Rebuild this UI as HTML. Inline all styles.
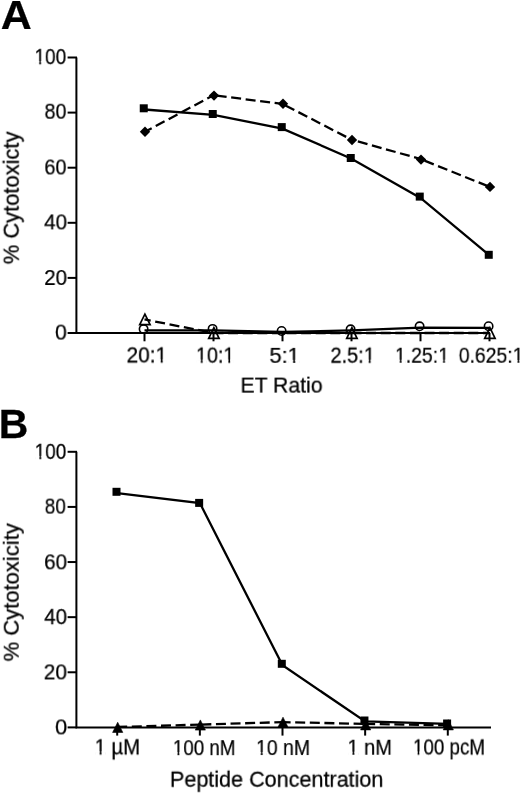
<!DOCTYPE html><html><head><meta charset="utf-8"><style>html,body{margin:0;padding:0;background:#fff;}svg{display:block;will-change:transform;filter:blur(0.35px);}text{font-family:"Liberation Sans", sans-serif;fill:#000;stroke:#000;stroke-width:0.25px;will-change:transform;}</style></head><body>
<svg width="520" height="794" viewBox="0 0 520 794">
<rect width="520" height="794" fill="#fff"/>
<g transform="translate(0.710,28.650) scale(1.0474,1)"><text font-size="41" font-weight="bold">A</text></g>
<g transform="translate(-1.260,438.350) scale(1.0223,1)"><text font-size="40" font-weight="bold">B</text></g>
<g transform="translate(34.450,64.080) scale(0.8645,1)"><text font-size="22">100</text><rect x="0.176" y="-2.944" width="5.306" height="4.944" fill="#fff"/><rect x="7.527" y="-2.944" width="4.835" height="4.944" fill="#fff"/></g>
<g transform="translate(44.490,118.735) scale(0.8986,1)"><text font-size="22">80</text></g>
<g transform="translate(44.360,174.500) scale(0.9044,1)"><text font-size="22">60</text></g>
<g transform="translate(44.140,229.425) scale(0.9356,1)"><text font-size="22">40</text></g>
<g transform="translate(44.170,284.985) scale(0.9342,1)"><text font-size="22">20</text></g>
<g transform="translate(54.980,339.600) scale(0.9667,1)"><text font-size="22">0</text></g>
<g transform="translate(34.610,458.890) scale(0.8622,1)"><text font-size="22">100</text><rect x="0.176" y="-2.944" width="5.306" height="4.944" fill="#fff"/><rect x="7.527" y="-2.944" width="4.835" height="4.944" fill="#fff"/></g>
<g transform="translate(44.750,513.600) scale(0.8596,1)"><text font-size="22">80</text></g>
<g transform="translate(44.080,569.330) scale(0.9379,1)"><text font-size="22">60</text></g>
<g transform="translate(44.220,624.075) scale(0.9313,1)"><text font-size="22">40</text></g>
<g transform="translate(43.680,679.415) scale(0.9514,1)"><text font-size="22">20</text></g>
<g transform="translate(55.020,734.405) scale(0.9960,1)"><text font-size="22">0</text></g>
<g transform="translate(126.510,362.430) scale(0.9487,1)"><text font-size="22">20:1</text><rect x="30.759" y="-2.944" width="5.306" height="4.944" fill="#fff"/><rect x="38.110" y="-2.944" width="4.835" height="4.944" fill="#fff"/></g>
<g transform="translate(195.910,362.570) scale(0.8994,1)"><text font-size="22">10:1</text><rect x="0.176" y="-2.944" width="5.306" height="4.944" fill="#fff"/><rect x="7.527" y="-2.944" width="4.835" height="4.944" fill="#fff"/><rect x="30.759" y="-2.944" width="5.306" height="4.944" fill="#fff"/><rect x="38.110" y="-2.944" width="4.835" height="4.944" fill="#fff"/></g>
<g transform="translate(269.440,362.845) scale(0.9938,1)"><text font-size="22">5:1</text><rect x="18.523" y="-2.944" width="5.306" height="4.944" fill="#fff"/><rect x="25.874" y="-2.944" width="4.835" height="4.944" fill="#fff"/></g>
<g transform="translate(330.470,362.675) scale(0.9072,1)"><text font-size="22">2.5:1</text><rect x="36.871" y="-2.944" width="5.306" height="4.944" fill="#fff"/><rect x="44.222" y="-2.944" width="4.835" height="4.944" fill="#fff"/></g>
<g transform="translate(394.960,362.695) scale(0.8838,1)"><text font-size="22">1.25:1</text><rect x="0.176" y="-2.944" width="5.306" height="4.944" fill="#fff"/><rect x="7.527" y="-2.944" width="4.835" height="4.944" fill="#fff"/><rect x="49.106" y="-2.944" width="5.306" height="4.944" fill="#fff"/><rect x="56.457" y="-2.944" width="4.835" height="4.944" fill="#fff"/></g>
<g transform="translate(458.800,362.715) scale(0.8802,1)"><text font-size="22">0.625:1</text><rect x="61.342" y="-2.944" width="5.306" height="4.944" fill="#fff"/><rect x="68.693" y="-2.944" width="4.835" height="4.944" fill="#fff"/></g>
<g transform="translate(240.520,392.620) scale(0.9627,1)"><text font-size="22">ET Ratio</text></g>
<g transform="translate(94.630,754.330) scale(0.9221,1)"><text font-size="22">1 µM</text><rect x="0.176" y="-2.944" width="5.306" height="4.944" fill="#fff"/><rect x="7.527" y="-2.944" width="4.835" height="4.944" fill="#fff"/></g>
<g transform="translate(172.810,755.150) scale(0.8543,1)"><text font-size="22">100 nM</text><rect x="0.176" y="-2.944" width="5.306" height="4.944" fill="#fff"/><rect x="7.527" y="-2.944" width="4.835" height="4.944" fill="#fff"/></g>
<g transform="translate(255.990,755.005) scale(0.8858,1)"><text font-size="22">10 nM</text><rect x="0.176" y="-2.944" width="5.306" height="4.944" fill="#fff"/><rect x="7.527" y="-2.944" width="4.835" height="4.944" fill="#fff"/></g>
<g transform="translate(347.430,754.695) scale(0.9118,1)"><text font-size="22">1 nM</text><rect x="0.176" y="-2.944" width="5.306" height="4.944" fill="#fff"/><rect x="7.527" y="-2.944" width="4.835" height="4.944" fill="#fff"/></g>
<g transform="translate(412.920,754.445) scale(0.8552,1)"><text font-size="22">100 pcM</text><rect x="0.176" y="-2.944" width="5.306" height="4.944" fill="#fff"/><rect x="7.527" y="-2.944" width="4.835" height="4.944" fill="#fff"/></g>
<g transform="translate(169.910,786.740) scale(0.9812,1)"><text font-size="22">Peptide Concentration</text></g>
<g transform="translate(18.725,264.280) rotate(-90) scale(0.9969,1)"><text font-size="22">% Cytotoxicty</text></g>
<g transform="translate(18.735,661.450) rotate(-90) scale(1.0017,1)"><text font-size="22">% Cytotoxicity</text></g>
<path d="M76.4 57.5V333M75.4 333H490" stroke="#000" stroke-width="2" fill="none"/>
<path d="M67.6 333.00H77" stroke="#000" stroke-width="2"/>
<path d="M67.6 277.90H77" stroke="#000" stroke-width="2"/>
<path d="M67.6 222.80H77" stroke="#000" stroke-width="2"/>
<path d="M67.6 167.70H77" stroke="#000" stroke-width="2"/>
<path d="M67.6 112.60H77" stroke="#000" stroke-width="2"/>
<path d="M67.6 57.50H77" stroke="#000" stroke-width="2"/>
<path d="M144.50 333V341.3" stroke="#000" stroke-width="2"/>
<path d="M213.50 333V341.3" stroke="#000" stroke-width="2"/>
<path d="M282.50 333V341.3" stroke="#000" stroke-width="2"/>
<path d="M351.50 333V341.3" stroke="#000" stroke-width="2"/>
<path d="M420.50 333V341.3" stroke="#000" stroke-width="2"/>
<path d="M489.50 333V341.3" stroke="#000" stroke-width="2"/>
<polyline points="144.50,330.30 213.50,330.30 282.50,332.00 351.50,330.40 420.50,327.70 489.50,327.80" fill="none" stroke="#000" stroke-width="2.3"/>
<line x1="144.50" y1="319.40" x2="213.50" y2="333.00" stroke="#000" stroke-width="2.3" stroke-dasharray="10,4.6" stroke-dashoffset="3.7"/>
<line x1="213.50" y1="333.00" x2="351.50" y2="333.00" stroke="#000" stroke-width="2.3" stroke-dasharray="10,4.6" stroke-dashoffset="0"/>
<line x1="351.50" y1="333.00" x2="489.50" y2="333.00" stroke="#000" stroke-width="2.3" stroke-dasharray="10,4.6" stroke-dashoffset="0"/>
<line x1="144.50" y1="132.05" x2="213.50" y2="95.26" stroke="#000" stroke-width="2.3" stroke-dasharray="10,4.6" stroke-dashoffset="1.85"/>
<line x1="213.50" y1="95.26" x2="282.50" y2="103.90" stroke="#000" stroke-width="2.3" stroke-dasharray="10,4.6" stroke-dashoffset="11.4"/>
<line x1="282.50" y1="103.90" x2="351.50" y2="139.65" stroke="#000" stroke-width="2.3" stroke-dasharray="10,4.6" stroke-dashoffset="11.3"/>
<line x1="351.50" y1="139.65" x2="420.50" y2="159.00" stroke="#000" stroke-width="2.3" stroke-dasharray="10,4.6" stroke-dashoffset="8.0"/>
<line x1="420.50" y1="159.00" x2="489.50" y2="186.80" stroke="#000" stroke-width="2.3" stroke-dasharray="10,4.6" stroke-dashoffset="10.3"/>
<polyline points="144.50,109.50 213.50,114.85 282.50,128.60 351.50,158.70 420.50,197.95 489.50,255.40" fill="none" stroke="#000" stroke-width="2.3"/>
<path d="M144.90 314.10L150.10 324.70L139.70 324.70Z" fill="none" stroke="#000" stroke-width="1.7" stroke-linejoin="miter"/>
<path d="M213.90 327.70L219.10 338.30L208.70 338.30Z" fill="none" stroke="#000" stroke-width="1.7" stroke-linejoin="miter"/>
<path d="M351.90 327.70L357.10 338.30L346.70 338.30Z" fill="none" stroke="#000" stroke-width="1.7" stroke-linejoin="miter"/>
<path d="M489.90 327.70L495.10 338.30L484.70 338.30Z" fill="none" stroke="#000" stroke-width="1.7" stroke-linejoin="miter"/>
<circle cx="143.60" cy="329.10" r="4.2" fill="none" stroke="#000" stroke-width="1.6"/>
<circle cx="212.60" cy="328.90" r="4.2" fill="none" stroke="#000" stroke-width="1.6"/>
<circle cx="281.60" cy="331.00" r="4.2" fill="none" stroke="#000" stroke-width="1.6"/>
<circle cx="350.60" cy="329.30" r="4.2" fill="none" stroke="#000" stroke-width="1.6"/>
<circle cx="419.60" cy="326.30" r="4.2" fill="none" stroke="#000" stroke-width="1.6"/>
<circle cx="488.60" cy="326.20" r="4.2" fill="none" stroke="#000" stroke-width="1.6"/>
<path d="M145.00 126.60L150.20 131.80L145.00 137.00L139.80 131.80Z" fill="#000"/>
<path d="M214.00 90.40L219.20 95.60L214.00 100.80L208.80 95.60Z" fill="#000"/>
<path d="M283.00 98.50L288.20 103.70L283.00 108.90L277.80 103.70Z" fill="#000"/>
<path d="M352.00 134.80L357.20 140.00L352.00 145.20L346.80 140.00Z" fill="#000"/>
<path d="M421.00 154.40L426.20 159.60L421.00 164.80L415.80 159.60Z" fill="#000"/>
<path d="M490.00 181.70L495.20 186.90L490.00 192.10L484.80 186.90Z" fill="#000"/>
<rect x="139.75" y="104.30" width="8.0" height="8.0" fill="#000"/>
<rect x="208.75" y="110.00" width="8.0" height="8.0" fill="#000"/>
<rect x="277.75" y="123.10" width="8.0" height="8.0" fill="#000"/>
<rect x="346.75" y="154.00" width="8.0" height="8.0" fill="#000"/>
<rect x="415.75" y="192.60" width="8.0" height="8.0" fill="#000"/>
<rect x="484.75" y="250.80" width="8.0" height="8.0" fill="#000"/>
<path d="M76.4 451.7V727.4M75.4 727.4H491" stroke="#000" stroke-width="2" fill="none"/>
<path d="M67.6 727.40H77" stroke="#000" stroke-width="2"/>
<path d="M67.6 672.28H77" stroke="#000" stroke-width="2"/>
<path d="M67.6 617.16H77" stroke="#000" stroke-width="2"/>
<path d="M67.6 562.04H77" stroke="#000" stroke-width="2"/>
<path d="M67.6 506.92H77" stroke="#000" stroke-width="2"/>
<path d="M67.6 451.80H77" stroke="#000" stroke-width="2"/>
<path d="M117.20 727.4V735.6" stroke="#000" stroke-width="2"/>
<path d="M199.85 727.4V735.6" stroke="#000" stroke-width="2"/>
<path d="M282.50 727.4V735.6" stroke="#000" stroke-width="2"/>
<path d="M365.15 727.4V735.6" stroke="#000" stroke-width="2"/>
<path d="M447.80 727.4V735.6" stroke="#000" stroke-width="2"/>
<line x1="117.20" y1="727.00" x2="199.85" y2="724.60" stroke="#000" stroke-width="2.3" stroke-dasharray="10,4.6" stroke-dashoffset="0"/>
<line x1="199.85" y1="724.60" x2="282.50" y2="722.10" stroke="#000" stroke-width="2.3" stroke-dasharray="10,4.6" stroke-dashoffset="13.1"/>
<line x1="282.50" y1="722.10" x2="365.15" y2="723.90" stroke="#000" stroke-width="2.3" stroke-dasharray="10,4.6" stroke-dashoffset="1.9"/>
<line x1="365.15" y1="723.90" x2="447.80" y2="725.30" stroke="#000" stroke-width="2.3" stroke-dasharray="10,4.6" stroke-dashoffset="0"/>
<polyline points="117.20,493.20 199.85,503.10 282.50,665.30 365.15,721.40 447.80,723.95" fill="none" stroke="#000" stroke-width="2.3"/>
<path d="M117.70 722.25L122.80 732.45L112.60 732.45Z" fill="#000" stroke="#000" stroke-width="0.6" stroke-linejoin="miter"/>
<path d="M200.35 719.90L205.45 730.10L195.25 730.10Z" fill="#000" stroke="#000" stroke-width="0.6" stroke-linejoin="miter"/>
<path d="M283.00 717.15L288.10 727.35L277.90 727.35Z" fill="#000" stroke="#000" stroke-width="0.6" stroke-linejoin="miter"/>
<path d="M365.65 719.70L370.75 729.90L360.55 729.90Z" fill="#000" stroke="#000" stroke-width="0.6" stroke-linejoin="miter"/>
<path d="M448.30 719.70L453.40 729.90L443.20 729.90Z" fill="#000" stroke="#000" stroke-width="0.6" stroke-linejoin="miter"/>
<rect x="112.50" y="487.80" width="8.0" height="8.0" fill="#000"/>
<rect x="195.15" y="498.90" width="8.0" height="8.0" fill="#000"/>
<rect x="277.80" y="659.80" width="8.0" height="8.0" fill="#000"/>
<rect x="360.45" y="716.50" width="8.0" height="8.0" fill="#000"/>
<rect x="443.10" y="719.50" width="8.0" height="8.0" fill="#000"/>
</svg></body></html>
